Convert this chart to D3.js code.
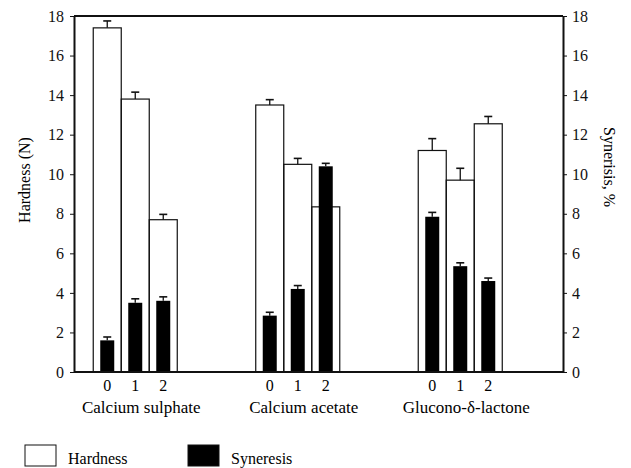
<!DOCTYPE html>
<head>
<meta charset="utf-8">
<script src="https://d3js.org/d3.v7.min.js"></script>
<style>
  body { margin: 0; background: #fff; }
  .axis path, .axis line { stroke: #111; }
</style>
</head>
<body>
<script>
// data
var groups = ["Calcium sulphate", "Calcium acetate", "Glucono-\u03B4-lactone"];
var levels = ["0", "1", "2"];
var hardness = [[17.4, 13.8, 7.7], [13.5, 10.5, 8.35], [11.2, 9.7, 12.55]];
var hardnessErr = [[0.35, 0.35, 0.27], [0.27, 0.3, 0.3], [0.6, 0.6, 0.37]];
var syneresis = [[1.6, 3.5, 3.6], [2.85, 4.2, 10.4], [7.85, 5.35, 4.6]];
var syneresisErr = [[0.17, 0.2, 0.2], [0.17, 0.17, 0.15], [0.22, 0.17, 0.15]];
var yTicks = [0, 2, 4, 6, 8, 10, 12, 14, 16, 18];

var width = 631, height = 468;
var plot = {left: 74, right: 563, top: 16, bottom: 372};
var serif = "'Liberation Serif', 'Times New Roman', Times, serif";

var svg = d3.select("body").append("svg")
    .attr("width", width)
    .attr("height", height);

var y = d3.scaleLinear().domain([0, 18]).range([plot.bottom, plot.top]);
var y2 = d3.scaleLinear().domain([0, 18]).range([plot.bottom, plot.top]);

var x = d3.scaleBand()
    .domain(groups)
    .range([54, 541.5])
    .paddingInner(0.483)
    .paddingOuter(0.2415);

var xi = d3.scaleBand().domain(levels).range([0, x.bandwidth()]);

// flatten to one record per bar
var rows = [];
groups.forEach(function(g, gi) {
    levels.forEach(function(l, li) {
        rows.push({
            group: g, level: l,
            h: hardness[gi][li], he: hardnessErr[gi][li],
            s: syneresis[gi][li], se: syneresisErr[gi][li]
        });
    });
});

var capW = 8;
var bw = xi.bandwidth();
function cx(d) { return x(d.group) + xi(d.level) + bw / 2; }

// hardness bars (open)
var hg = svg.append("g");
hg.selectAll("line.herr")
    .data(rows).enter().append("line")
    .attr("x1", cx).attr("x2", cx)
    .attr("y1", function(d) { return y(d.h); })
    .attr("y2", function(d) { return y(d.h + d.he); })
    .attr("stroke", "#111").attr("stroke-width", 1.3);
hg.selectAll("line.hcap")
    .data(rows).enter().append("line")
    .attr("x1", function(d) { return cx(d) - capW / 2; })
    .attr("x2", function(d) { return cx(d) + capW / 2; })
    .attr("y1", function(d) { return y(d.h + d.he); })
    .attr("y2", function(d) { return y(d.h + d.he); })
    .attr("stroke", "#111").attr("stroke-width", 1.6);
hg.selectAll("rect")
    .data(rows).enter().append("rect")
    .attr("x", function(d) { return x(d.group) + xi(d.level); })
    .attr("width", bw)
    .attr("y", function(d) { return y(d.h); })
    .attr("height", function(d) { return y(0) - y(d.h); })
    .attr("fill", "none")
    .attr("stroke", "#111")
    .attr("stroke-width", 1.2);

// syneresis bars (filled), drawn on top
var sw = bw / 2;
var sg = svg.append("g");
sg.selectAll("line.serr")
    .data(rows).enter().append("line")
    .attr("x1", cx).attr("x2", cx)
    .attr("y1", function(d) { return y2(d.s); })
    .attr("y2", function(d) { return y2(d.s + d.se); })
    .attr("stroke", "#111").attr("stroke-width", 1.3);
sg.selectAll("line.scap")
    .data(rows).enter().append("line")
    .attr("x1", function(d) { return cx(d) - capW / 2; })
    .attr("x2", function(d) { return cx(d) + capW / 2; })
    .attr("y1", function(d) { return y2(d.s + d.se); })
    .attr("y2", function(d) { return y2(d.s + d.se); })
    .attr("stroke", "#111").attr("stroke-width", 1.6);
sg.selectAll("rect")
    .data(rows).enter().append("rect")
    .attr("x", function(d) { return cx(d) - sw / 2; })
    .attr("width", sw)
    .attr("y", function(d) { return y2(d.s); })
    .attr("height", function(d) { return y2(0) - y2(d.s); })
    .attr("fill", "#000");

// frame: top and bottom lines
svg.append("line")
    .attr("x1", plot.left).attr("x2", plot.right)
    .attr("y1", plot.top).attr("y2", plot.top)
    .attr("stroke", "#111").attr("stroke-width", 2);
svg.append("line")
    .attr("x1", plot.left).attr("x2", plot.right)
    .attr("y1", plot.bottom).attr("y2", plot.bottom)
    .attr("stroke", "#111").attr("stroke-width", 2);

// axes
var ax = svg.append("g").attr("class", "axis")
    .attr("transform", "translate(" + plot.left + ",0)")
    .call(d3.axisLeft(y).tickValues(yTicks).tickSize(4).tickSizeOuter(0).tickPadding(6));
ax.select(".domain").attr("stroke-width", 2);

var ax2 = svg.append("g").attr("class", "axis")
    .attr("transform", "translate(" + plot.right + ",0)")
    .call(d3.axisRight(y2).tickValues(yTicks).tickSize(4).tickSizeOuter(0).tickPadding(5));
ax2.select(".domain").attr("stroke-width", 2);

svg.selectAll(".axis").attr("font-family", serif).attr("font-size", 16);
svg.selectAll(".axis text").attr("fill", "#111");

// x labels: levels and group names
svg.append("g").selectAll("text")
    .data(rows).enter().append("text")
    .attr("x", cx)
    .attr("y", 391)
    .attr("text-anchor", "middle")
    .attr("font-family", serif).attr("font-size", 16)
    .text(function(d) { return d.level; });

svg.append("g").selectAll("text")
    .data(groups).enter().append("text")
    .attr("x", function(d) { return x(d) + x.bandwidth() / 2 + 6; })
    .attr("y", 413)
    .attr("text-anchor", "middle")
    .attr("font-family", serif).attr("font-size", 17)
    .text(function(d) { return d; });

// axis titles
svg.append("text")
    .attr("transform", "translate(30,180) rotate(-90)")
    .attr("text-anchor", "middle")
    .attr("font-family", serif).attr("font-size", 16)
    .text("Hardness (N)");
svg.append("text")
    .attr("transform", "translate(604,167) rotate(90)")
    .attr("text-anchor", "middle")
    .attr("font-family", serif).attr("font-size", 16)
    .text("Synerisis, %");

// legend
var legend = [{name: "Hardness", fill: "#fff"}, {name: "Syneresis", fill: "#000"}];
var lg = svg.append("g").selectAll("g")
    .data(legend).enter().append("g")
    .attr("transform", function(d, i) { return "translate(" + (25 + i * 163) + ",445)"; });
lg.append("rect")
    .attr("width", 31).attr("height", 21)
    .attr("fill", function(d) { return d.fill; })
    .attr("stroke", "#111").attr("stroke-width", 1);
lg.append("text")
    .attr("x", 43).attr("y", 19)
    .attr("font-family", serif).attr("font-size", 16)
    .text(function(d) { return d.name; });
</script>
</body>
